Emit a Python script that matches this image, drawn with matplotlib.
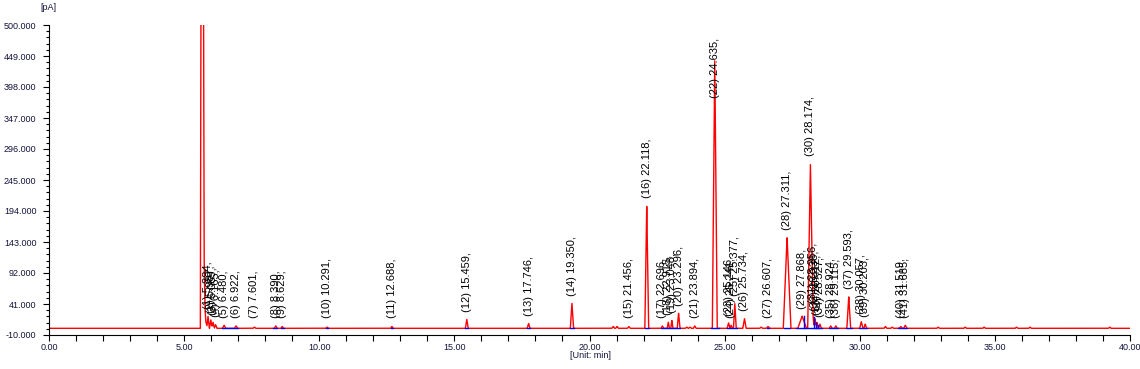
"""Recreate a GC-FID chromatogram with labelled peaks (pA vs. minutes)."""

import matplotlib.pyplot as plt
import numpy as np

plt.rcParams["font.family"] = ["Liberation Sans", "DejaVu Sans"]

# --- Data ---------------------------------------------------------------------
BASELINE = 1.0

# solvent front outline (time / min, signal / pA)
SOLVENT_T = [5.55, 5.60, 5.62, 5.72, 5.74, 5.77, 5.80, 5.86]
SOLVENT_Y = [1.0, 1.0, 520.0, 520.0, 120.0, 36.0, 12.0, 3.0]

# labelled peaks: number, retention time, apex height above baseline, half width
PEAK_NO = list(range(1, 42))
PEAK_RT = [5.884, 5.987, 6.069, 6.165, 6.480, 6.922, 7.601, 8.390, 8.629, 10.291,
           12.688, 15.459, 17.746, 19.350, 21.456, 22.118, 22.696, 22.915, 23.048,
           23.296, 23.894, 24.635, 25.146, 25.241, 25.377, 25.734, 26.607, 27.311,
           27.868, 28.174, 28.256, 28.338, 28.412, 28.527, 28.924, 29.115, 29.593,
           30.057, 30.203, 31.519, 31.685]
PEAK_H = [20, 14, 10, 6, 5, 4, 2, 4, 3, 2,
          3, 15, 8, 41, 3, 202, 4, 10, 13, 25,
          4, 440, 9, 5, 41, 16, 3, 150,
          20, 272, 30, 16, 10, 7, 4, 4, 52,
          11, 7, 3, 5]
PEAK_W = [0.05, 0.05, 0.05, 0.05, 0.06, 0.06, 0.05, 0.05, 0.05, 0.05,
          0.05, 0.05, 0.05, 0.06, 0.05, 0.07, 0.05, 0.04, 0.04, 0.05,
          0.05, 0.09, 0.05, 0.04, 0.05, 0.06, 0.06, 0.14,
          0.16, 0.10, 0.05, 0.05, 0.05, 0.05, 0.05, 0.05, 0.07,
          0.06, 0.05, 0.06, 0.06]

# small unlabelled baseline bumps
BUMP_RT = [20.88, 21.02, 23.60, 23.72, 26.35, 30.95, 31.20, 32.90, 33.90,
           34.60, 35.80, 36.30, 39.25]
BUMP_H = [3, 3, 2, 2, 2, 3, 2, 2, 2, 2, 2, 2, 2]

# blue integration baselines (start, end) and drop lines (time, height)
BLUE_SEG_T0 = [6.40, 8.30, 8.58, 10.24, 12.64, 15.40, 17.70, 19.28, 22.04, 22.65,
               24.50, 25.08, 26.55, 27.18, 27.65, 28.85, 29.48, 29.98, 31.42]
BLUE_SEG_T1 = [7.00, 8.45, 8.68, 10.34, 12.74, 15.52, 17.80, 19.42, 22.20, 23.35,
               24.78, 25.45, 26.66, 27.42, 28.62, 29.20, 29.70, 30.28, 31.76]
BLUE_DROP_T = [27.93, 28.30, 28.37, 28.46]
BLUE_DROP_H = [20, 18, 9, 6]

X_LIM = (0, 40)
Y_LIM = (-10, 500)
Y_TICKS = [-10, 41, 92, 143, 194, 245, 296, 347, 398, 449, 500]

RED = "#ff0000"
BLUE = "#0000ff"
TICK_COLOR = "#14143c"


def build_trace(t):
    """Sum piecewise-linear peaks from the peak table onto a flat baseline."""
    y = np.full_like(t, BASELINE)
    for rt, h, w in zip(PEAK_RT + BUMP_RT, PEAK_H + BUMP_H,
                        PEAK_W + [0.05] * len(BUMP_RT)):
        y += np.interp(t, [rt - w, rt, rt + w], [0.0, h, 0.0])
    solvent = np.interp(t, SOLVENT_T, SOLVENT_Y, left=BASELINE, right=BASELINE)
    return np.maximum(y, solvent)


def main():
    fig = plt.figure(figsize=(11.4, 3.69), dpi=100)
    ax = fig.add_axes([49 / 1140, 34 / 369, 1081 / 1140, 310 / 369])

    t = np.linspace(0, 40, 16001)
    t = np.sort(np.concatenate([t, SOLVENT_T]))
    ax.plot(t, build_trace(t), color=RED, lw=1.0, zorder=2)

    for t0, t1 in zip(BLUE_SEG_T0, BLUE_SEG_T1):
        ax.plot([t0, t1], [BASELINE, BASELINE], color=BLUE, lw=1.0, zorder=3)
    for td, hd in zip(BLUE_DROP_T, BLUE_DROP_H):
        ax.plot([td, td], [BASELINE, BASELINE + hd], color=BLUE, lw=1.0, zorder=3)

    # peak labels sit just above the apex, never below a floor, and the
    # tallest one is pushed down so it stays inside the plot
    for no, rt, h in zip(PEAK_NO, PEAK_RT, PEAK_H):
        y_lab = min(max(h + 13, 18), 380)
        ax.text(rt, y_lab, f"({no}) {rt:.3f},", rotation=90, ha="center",
                va="bottom", fontsize=8, color="black", zorder=4)

    ax.set_xlim(*X_LIM)
    ax.set_ylim(*Y_LIM)
    ax.set_xticks(np.arange(0, 40.1, 5))
    ax.set_xticks(np.arange(0, 40.1, 1), minor=True)
    ax.set_xticklabels([f"{v:.2f}" for v in np.arange(0, 40.1, 5)])
    ax.set_yticks(Y_TICKS)
    ax.set_yticks(np.arange(-10, 500.1, 10.2), minor=True)
    ax.set_yticklabels([f"{v:.3f}" for v in Y_TICKS])

    for side in ("top", "right"):
        ax.spines[side].set_visible(False)
    ax.tick_params(axis="both", which="major", length=4, width=0.8,
                   labelsize=6.5, labelcolor=TICK_COLOR)
    ax.tick_params(axis="x", which="minor", length=4, width=0.8)
    ax.tick_params(axis="y", which="minor", length=2, width=0.8)
    ax.tick_params(axis="y", pad=5)
    ax.tick_params(axis="x", pad=2)

    fig.text(48 / 1140, 1 - 8 / 369, "[pA]", ha="center", va="center",
             fontsize=6.5, color=TICK_COLOR)
    fig.text(590 / 1140, 1 - 355 / 369, "[Unit: min]", ha="center",
             va="center", fontsize=6.5, color=TICK_COLOR)

    fig.savefig("out.png", dpi=100)


if __name__ == "__main__":
    main()
